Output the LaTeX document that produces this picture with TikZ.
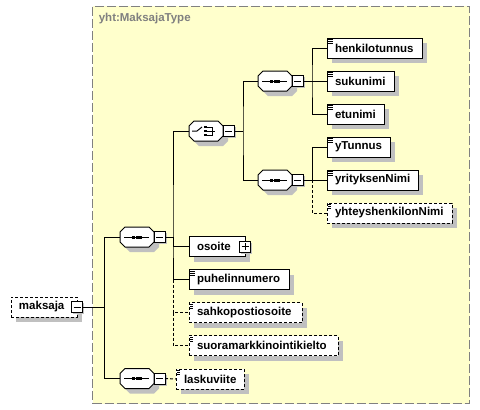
\documentclass[tikz,border=0pt]{standalone}
\usepackage{fontspec}
\setmainfont{Liberation Sans}
\usetikzlibrary{positioning,shadows}
\definecolor{typebg}{RGB}{255,255,204}
\definecolor{typeframe}{RGB}{128,128,128}
\definecolor{shade}{RGB}{192,192,192}
\tikzset{
  shaded/.style={drop shadow={shadow xshift=5pt, shadow yshift=-5pt, fill=shade, opacity=1}},
  box/.style={shape=rectangle, draw, fill=white, minimum height=20pt, inner ysep=0pt, outer sep=0pt,
    anchor=west, font=\bfseries\fontsize{11.5}{13}\selectfont, shaded},
  elem/.style={box, text width=#1, align=left, inner xsep=8pt},
  leaf/.style={elem=#1, path picture={
    \draw[line width=.8pt] ([shift={(1pt,-1.5pt)}]path picture bounding box.north west) -- +(4.5pt,0)
      +(0,-2pt) -- +(4.5pt,-2pt) +(0,-4pt) -- +(4.5pt,-4pt);}},
  opt/.style={dash pattern=on 3pt off 2pt},
  seq/.style={shape=rectangle, minimum width=34pt, minimum height=20pt, inner sep=0pt, outer sep=0pt, anchor=west},
  octagon/.style={insert path={([xshift=5pt]#1.north west) -- ([xshift=-5pt]#1.north east)
    -- ([yshift=-5pt]#1.north east) -- ([yshift=5pt]#1.south east) -- ([xshift=-5pt]#1.south east)
    -- ([xshift=5pt]#1.south west) -- ([yshift=5pt]#1.south west) -- ([yshift=-5pt]#1.north west) -- cycle}},
  ctl/.style={draw, fill=white, minimum size=11pt, inner sep=0pt, outer sep=0pt,
    drop shadow={shadow xshift=1.5pt, shadow yshift=-1.5pt, fill=shade, opacity=1}},
  minus/.style={ctl, path picture={\draw ([xshift=2pt]path picture bounding box.west) -- ([xshift=-2pt]path picture bounding box.east);}},
  plus/.style={ctl, path picture={\draw ([xshift=2pt]path picture bounding box.west) -- ([xshift=-2pt]path picture bounding box.east)
    ([yshift=-2pt]path picture bounding box.north) -- ([yshift=2pt]path picture bounding box.south);}}
}
\begin{document}
\begin{tikzpicture}[x=1pt, y=1pt, line width=1pt]
\useasboundingbox (0,0) rectangle (480,-410);
\node (typebox) [draw=typeframe, fill=typebg, dash pattern=on 9pt off 3pt, minimum width=377pt, minimum height=397.5pt, anchor=north west] at (92,-5.5) {};
\node (typename) [anchor=west, text=typeframe, font=\bfseries\fontsize{11.5}{13}\selectfont] at (95,-19) {yht:MaksajaType};

\node[elem=50pt, opt] (maksaja) at (11,-307) {maksaja};
\node[minus] (maksajactl) at (maksaja.east) {};

\node[seq] (seqmain) at (120,-237) {};
\node[seq] (seqlast) at (120,-378.5) {};
\node[seq] (choice) at (189,-131) {};
\node[seq] (seqperson) at (258,-81) {};
\node[seq] (seqcompany) at (258,-180) {};
\foreach \s in {seqmain,seqlast,choice,seqperson,seqcompany}
  \draw[fill=white, shaded, octagon=\s];
\foreach \s in {seqmain,seqlast,seqperson,seqcompany} {
  \draw ([xshift=4pt]\s.west) -- ([xshift=-5pt]\s.east);
  \foreach \dx in {-3.5,0,3.5}
    \fill ([xshift=\dx pt]\s.center) +(-1.5pt,-1.5pt) rectangle +(1.5pt,1.5pt);
}
\draw ([xshift=3pt]choice.west) -- ++(5pt,0) -- ++(5pt,4pt);
\foreach \dy in {-4,0,4}
  \fill ([shift={(-0.5pt,\dy pt)}]choice.center) +(-1.3pt,-1.3pt) rectangle +(1.3pt,1.3pt);
\draw ([shift={(1pt,4pt)}]choice.center) -- ++(5pt,0) -- ++(0,-8pt) -- ++(-5pt,0) ++(0,4pt) -- ++(8pt,0);

\node[minus, right=0pt of seqmain] (seqmainctl) {};
\node[minus, right=0pt of seqlast] (seqlastctl) {};
\node[minus, right=0pt of choice] (choicectl) {};
\node[minus, right=0pt of seqperson] (seqpersonctl) {};
\node[minus, right=0pt of seqcompany] (seqcompanyctl) {};

\node[leaf=79pt] (henkilotunnus) at (327,-48) {henkilotunnus};
\node[leaf=51pt, below=13pt of henkilotunnus.south west, anchor=north west] (sukunimi) {sukunimi};
\node[leaf=41pt, below=13pt of sukunimi.south west, anchor=north west] (etunimi) {etunimi};
\node[leaf=47pt, below=13pt of etunimi.south west, anchor=north west] (yTunnus) {yTunnus};
\node[leaf=75pt, below=13pt of yTunnus.south west, anchor=north west] (yrityksenNimi) {yrityksenNimi};
\node[leaf=109pt, opt, below=13pt of yrityksenNimi.south west, anchor=north west] (yhteyshenkilonNimi) {yhteyshenkilonNimi};

\node[elem=40pt] (osoite) at (189,-246.5) {osoite};
\node[plus] (osoitectl) at (osoite.east) {};
\node[leaf=84pt, below=13pt of osoite.south west, anchor=north west] (puhelinnumero) {puhelinnumero};
\node[leaf=97pt, opt, below=13pt of puhelinnumero.south west, anchor=north west] (sahkopostiosoite) {sahkopostiosoite};
\node[leaf=133pt, opt, below=13pt of sahkopostiosoite.south west, anchor=north west] (suoramarkkinointikielto) {suoramarkkinointikielto};
\node[leaf=52pt, opt] (laskuviite) at (176,-379) {laskuviite};

\coordinate (trunkroot) at ([xshift=22pt]maksajactl.east);
\coordinate (trunkmain) at ([xshift=8pt]seqmainctl.east);
\coordinate (trunkchoice) at ([xshift=9pt]choicectl.east);
\coordinate (trunkperson) at ([xshift=9pt]seqpersonctl.east);
\coordinate (trunkcompany) at ([xshift=9pt]seqcompanyctl.east);

\draw (maksajactl.east) -- (trunkroot);
\draw (seqmain.west) -| (trunkroot) |- (seqlast.west);
\draw (seqmainctl.east) -- (trunkmain);
\draw (choice.west) -| (trunkmain) |- (puhelinnumero.west);
\draw (trunkmain) |- (osoite.west);
\draw[opt] (puhelinnumero.west -| trunkmain) |- (sahkopostiosoite.west);
\draw[opt] (sahkopostiosoite.west -| trunkmain) |- (suoramarkkinointikielto.west);
\draw[opt] (seqlastctl.east) -- (laskuviite.west);
\draw (choicectl.east) -- (trunkchoice);
\draw (seqperson.west) -| (trunkchoice) |- (seqcompany.west);
\draw (seqpersonctl.east) -- (trunkperson);
\draw (henkilotunnus.west) -| (trunkperson) |- (etunimi.west);
\draw (trunkperson) -- (sukunimi.west);
\draw (seqcompanyctl.east) -- (yrityksenNimi.west);
\draw (yTunnus.west) -| (trunkcompany);
\draw[opt] (trunkcompany) |- (yhteyshenkilonNimi.west);
\end{tikzpicture}
\end{document}
